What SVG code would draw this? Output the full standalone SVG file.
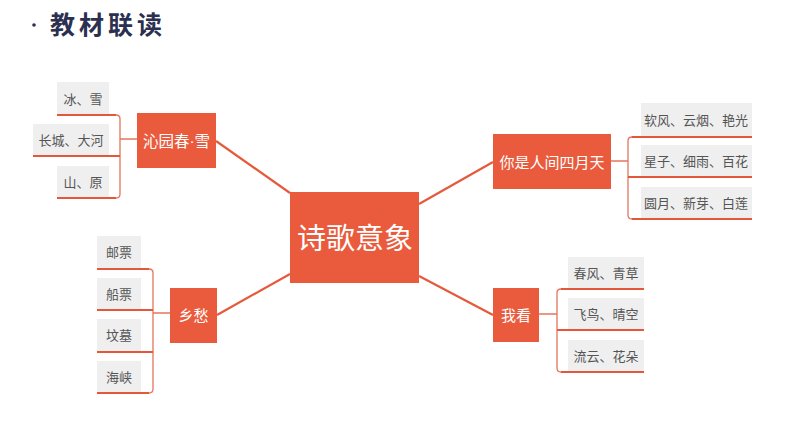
<svg xmlns="http://www.w3.org/2000/svg" width="794" height="447" viewBox="0 0 794 447">
<style>
.node{fill:#E95B3C}
.ntext{fill:#fff;font-family:"Noto Sans CJK SC","Noto Sans",sans-serif;text-anchor:middle;dominant-baseline:central}
.leaf{fill:#EFEFEF}
.ltext{fill:#555;font-family:"Noto Sans CJK SC","Noto Sans",sans-serif;font-size:13px;text-anchor:middle;dominant-baseline:central}
.ul{stroke:#E4573B;stroke-width:2.2;fill:none}
.br{stroke:#E4755E;stroke-width:1.3;fill:none}
.conn{stroke:#E65A3C;stroke-width:2.2;fill:none}
</style>
<rect width="794" height="447" fill="#fff"/>
<g id="title">
<circle cx="34" cy="25" r="1.8" fill="#2B3050"/>
<text x="50" y="34" font-family="'Noto Sans CJK SC',sans-serif" font-weight="bold" font-size="25" letter-spacing="4" fill="#2B3050">教材联读</text>
</g>
<g id="connectors">
<line class="conn" x1="216" y1="141" x2="290" y2="193"/>
<line class="conn" x1="493" y1="162" x2="419" y2="204"/>
<line class="conn" x1="217" y1="315" x2="290" y2="274"/>
<line class="conn" x1="493" y1="315" x2="419" y2="276"/>
<path class="br" d="M116 115 Q120 115 120 119 V194 Q120 198 116 198 M120 139 H137"/>
<path class="br" d="M632 137 Q628 137 628 141 V215 Q628 219 632 219 M611 161 H628"/>
<path class="br" d="M149 269 Q153 269 153 273 V389 Q153 393 149 393 M153 313 H170"/>
<path class="br" d="M561 289 Q557 289 557 293 V368 Q557 372 561 372 M539 314 H557"/>
</g>
<g id="center">
<rect class="node" x="290" y="192" width="129" height="91"/>
<text class="ntext" x="355" y="236" font-size="29">诗歌意象</text>
</g>
<g id="qinyuanchun">
<rect class="node" x="137" y="113" width="79" height="55"/>
<text class="ntext" x="176.5" y="139.5" font-size="15.5">沁园春<tspan font-family="'Liberation Sans',sans-serif">·</tspan>雪</text>
</g>
<g id="leaf-bingxue">
<rect class="leaf" x="57" y="82" width="52" height="33"/>
<line class="ul" x1="57" y1="115" x2="116" y2="115"/>
<text class="ltext" x="83" y="98">冰、雪</text>
</g>
<g id="leaf-changcheng">
<rect class="leaf" x="33" y="124" width="76" height="32"/>
<line class="ul" x1="33" y1="156" x2="120" y2="156"/>
<text class="ltext" x="71" y="139.5">长城、大河</text>
</g>
<g id="leaf-shanyuan">
<rect class="leaf" x="57" y="166" width="52" height="32"/>
<line class="ul" x1="57" y1="198" x2="116" y2="198"/>
<text class="ltext" x="83" y="181.5">山、原</text>
</g>
<g id="siyuetian">
<rect class="node" x="493" y="134" width="118" height="55"/>
<text class="ntext" x="552" y="161" font-size="15">你是人间四月天</text>
</g>
<g id="leaf-ruanfeng">
<rect class="leaf" x="641" y="103" width="111" height="34"/>
<line class="ul" x1="632" y1="137" x2="752" y2="137"/>
<text class="ltext" x="696" y="119">软风、云烟、艳光</text>
</g>
<g id="leaf-xingzi">
<rect class="leaf" x="641" y="145" width="111" height="32"/>
<line class="ul" x1="628" y1="177" x2="752" y2="177"/>
<text class="ltext" x="696" y="160">星子、细雨、百花</text>
</g>
<g id="leaf-yuanyue">
<rect class="leaf" x="641" y="187" width="111" height="32"/>
<line class="ul" x1="632" y1="219" x2="752" y2="219"/>
<text class="ltext" x="696" y="202">圆月、新芽、白莲</text>
</g>
<g id="xiangchou">
<rect class="node" x="170" y="288" width="47" height="55"/>
<text class="ntext" x="193.5" y="314" font-size="15">乡愁</text>
</g>
<g id="leaf-youpiao">
<rect class="leaf" x="97" y="236" width="44" height="33"/>
<line class="ul" x1="97" y1="269" x2="149" y2="269"/>
<text class="ltext" x="119" y="251">邮票</text>
</g>
<g id="leaf-chuanpiao">
<rect class="leaf" x="97" y="278" width="44" height="32"/>
<line class="ul" x1="97" y1="310" x2="153" y2="310"/>
<text class="ltext" x="119" y="293">船票</text>
</g>
<g id="leaf-fenmu">
<rect class="leaf" x="97" y="319" width="44" height="33"/>
<line class="ul" x1="97" y1="352" x2="153" y2="352"/>
<text class="ltext" x="119" y="334">坟墓</text>
</g>
<g id="leaf-haixia">
<rect class="leaf" x="97" y="361" width="44" height="32"/>
<line class="ul" x1="97" y1="393" x2="149" y2="393"/>
<text class="ltext" x="119" y="376">海峡</text>
</g>
<g id="wokan">
<rect class="node" x="493" y="288" width="46" height="54"/>
<text class="ntext" x="516" y="314" font-size="15">我看</text>
</g>
<g id="leaf-chunfeng">
<rect class="leaf" x="568" y="257" width="76" height="32"/>
<line class="ul" x1="561" y1="289" x2="644" y2="289"/>
<text class="ltext" x="606" y="272">春风、青草</text>
</g>
<g id="leaf-feiniao">
<rect class="leaf" x="568" y="298" width="76" height="32"/>
<line class="ul" x1="557" y1="330" x2="644" y2="330"/>
<text class="ltext" x="606" y="313">飞鸟、晴空</text>
</g>
<g id="leaf-liuyun">
<rect class="leaf" x="568" y="340" width="76" height="32"/>
<line class="ul" x1="561" y1="372" x2="644" y2="372"/>
<text class="ltext" x="606" y="355">流云、花朵</text>
</g>
</svg>
